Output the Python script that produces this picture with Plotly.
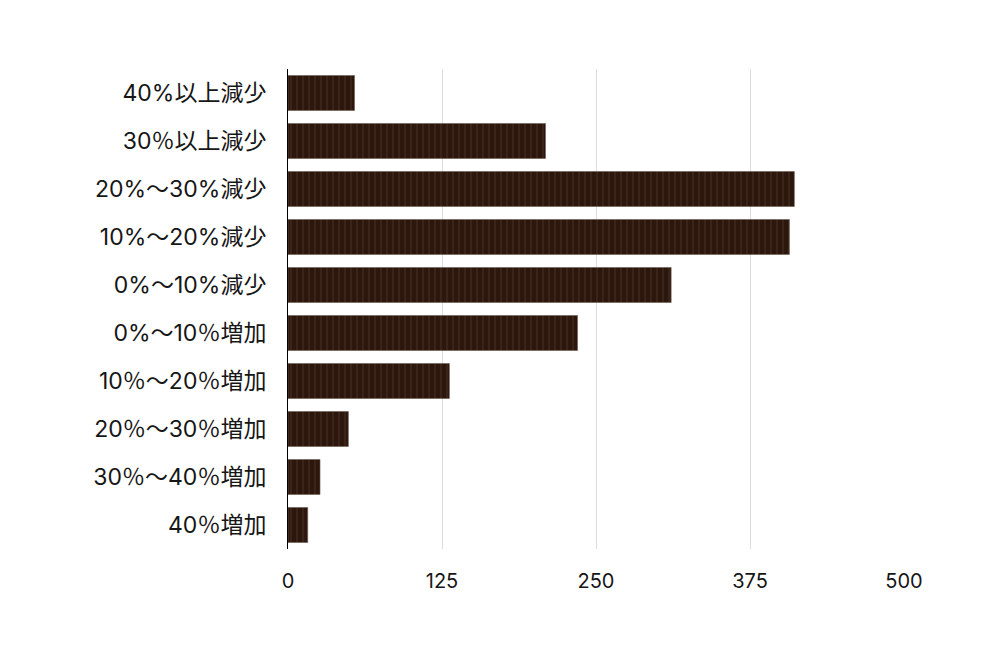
import plotly.graph_objects as go

categories = ["40%以上減少", "30％以上減少", "20%～30%減少", "10%～20%減少", "0%～10%減少",
              "0%～10％増加", "10％～20％増加", "20％～30％増加", "30％～40％増加", "40％増加"]
values = [54, 209, 411, 407, 311, 235, 131, 49, 26, 16]
tick_vals = [0, 125, 250, 375, 500]

font_family = "Inter, Noto Sans CJK JP, sans-serif"

fig = go.Figure(go.Bar(
    x=values,
    y=categories,
    orientation="h",
    marker=dict(
        color="#2d1911",
        line=dict(color="#6b5a50", width=0.6),
        pattern=dict(shape="|", fgcolor="#4e3020", bgcolor="#2b170e", size=6, solidity=0.3),
    ),
    hoverinfo="x+y",
))

fig.update_layout(
    width=1000, height=645,
    margin=dict(l=280, r=104, t=61, b=104),
    paper_bgcolor="white", plot_bgcolor="white",
    bargap=0.27,
    showlegend=False,
    font=dict(family=font_family, size=19, color="#161616"),
)
fig.update_xaxes(
    range=[0, 500], tickvals=tick_vals, ticktext=[str(v) for v in tick_vals],
    showgrid=True, gridcolor="#dcdcdc", gridwidth=1,
    zeroline=False, showline=False, ticks="",
    ticklabelstandoff=18,
    tickfont=dict(size=20),
)
fig.update_yaxes(
    categoryorder="array", categoryarray=categories, autorange="reversed",
    showline=True, linecolor="#000000", linewidth=1,
    showgrid=False, ticks="", ticklabelstandoff=16,
    tickfont=dict(size=23),
)

fig.write_html("out.html")
